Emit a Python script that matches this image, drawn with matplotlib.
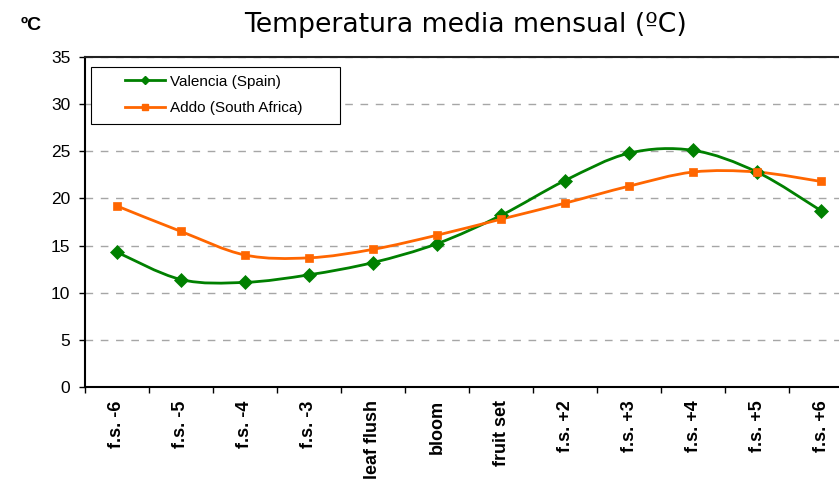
import numpy as np
import matplotlib
matplotlib.use("Agg")
import matplotlib.pyplot as plt
from matplotlib.path import Path
from matplotlib.patches import PathPatch, Rectangle
from matplotlib.lines import Line2D

# ─── Data ─────────────────────────────────────────────────────────────────────
STAGES = ["f.s. -6", "f.s. -5", "f.s. -4", "f.s. -3", "leaf flush", "bloom",
          "fruit set", "f.s. +2", "f.s. +3", "f.s. +4", "f.s. +5", "f.s. +6"]
VALENCIA = [14.3, 11.4, 11.1, 11.9, 13.2, 15.2, 18.2, 21.9, 24.8, 25.1, 22.8, 18.7]
ADDO     = [19.2, 16.5, 14.0, 13.7, 14.6, 16.1, 17.8, 19.5, 21.3, 22.8, 22.8, 21.8]

GREEN  = "#008000"
ORANGE = "#FF6600"

plt.rcParams["font.family"] = ["Liberation Sans", "DejaVu Sans"]
plt.rcParams["lines.scale_dashes"] = False


def smooth_path(xs, ys):
    """Excel-style smoothed line: cubic Bezier through every point."""
    pts = np.column_stack([xs, ys]).astype(float)
    n = len(pts)
    verts, codes = [pts[0]], [Path.MOVETO]
    for i in range(n - 1):
        p0 = pts[max(i - 1, 0)]
        p1, p2 = pts[i], pts[i + 1]
        p3 = pts[min(i + 2, n - 1)]
        c1 = p1 + (p2 - p0) / 6.0
        c2 = p2 - (p3 - p1) / 6.0
        verts += [c1, c2, p2]
        codes += [Path.CURVE4] * 3
    return Path(verts, codes)


fig = plt.figure(figsize=(8.39, 4.84), dpi=100)
ax = fig.add_axes([0.1013, 0.2004, 0.9154, 0.6818])

x = np.arange(len(STAGES))
for ys, col, mk, ms in [(VALENCIA, GREEN, "D", 7.0), (ADDO, ORANGE, "s", 5.8)]:
    ax.add_patch(PathPatch(smooth_path(x, ys), fill=False, edgecolor=col,
                           lw=2.0, zorder=3, capstyle="round", joinstyle="round"))
    ax.plot(x, ys, ls="none", marker=mk, ms=ms, color=col, mew=0.5, zorder=4)

ax.set_xlim(-0.5, len(STAGES) - 0.5)
ax.set_ylim(0, 35)
ax.set_yticks(range(0, 36, 5))
ax.tick_params(axis="y", length=4.5, width=1, pad=6, labelsize=12.5)

ax.set_xticks(x)
ax.set_xticklabels(STAGES, rotation=90, fontsize=13, fontweight="bold")
ax.set_xticks(np.arange(-0.5, len(STAGES), 1.0), minor=True)
ax.tick_params(axis="x", which="major", length=0, pad=9.5)
ax.tick_params(axis="x", which="minor", length=4, width=1)

ax.grid(axis="y", color="#a6a6a6", lw=1.0, ls=(0, (5.5, 5.5)), zorder=1)
ax.set_axisbelow(True)
for side in ["left", "bottom", "top"]:
    ax.spines[side].set_linewidth(1.5)
ax.spines["top"].set_color("#222222")
ax.spines["right"].set_visible(False)

# legend: frame drawn as a patch so it can be wider than its content
ax.add_patch(Rectangle((0.0074, 0.796), 0.3246, 0.1745, transform=ax.transAxes,
                       facecolor="white", edgecolor="black", lw=0.8, zorder=5))
handles = [Line2D([], [], color=GREEN, lw=2, marker="D", ms=4.5),
           Line2D([], [], color=ORANGE, lw=2, marker="s", ms=5)]
leg = ax.legend(handles, ["Valencia (Spain)", "Addo (South Africa)"],
                loc="upper left", bbox_to_anchor=(0.0521, 0.946),
                frameon=False, borderpad=0, borderaxespad=0, fontsize=11,
                handlelength=2.62, handletextpad=0.33, labelspacing=0.8)
leg.set_zorder(6)

fig.text(465 / 839, 1 - 32 / 484, "Temperatura media mensual (ºC)",
         family="DejaVu Sans", fontsize=19.2, ha="center", va="baseline")
fig.text(0.024, 0.947, "ºC", fontsize=14, fontweight="bold", va="center")

fig.savefig("out.png", dpi=100)
